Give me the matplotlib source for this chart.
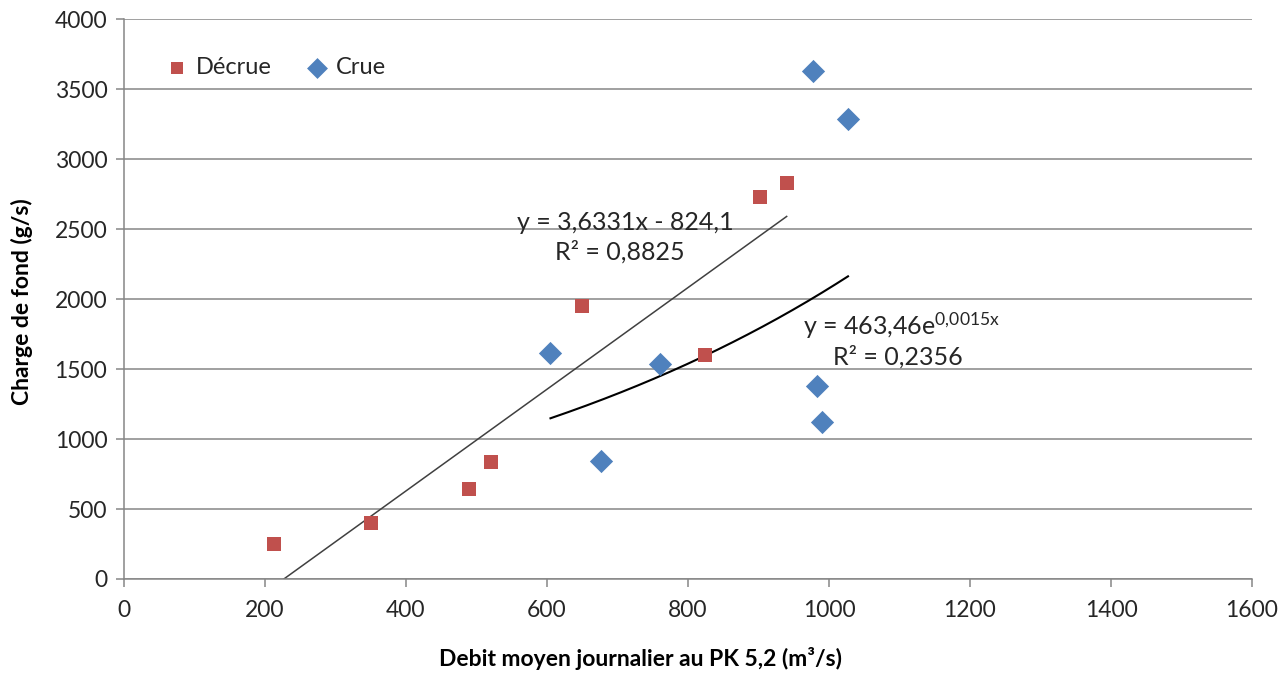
import numpy as np
import matplotlib.pyplot as plt

plt.rcParams['font.family'] = ['Lato', 'DejaVu Sans']
plt.rcParams['mathtext.default'] = 'regular'

# mesures en decrue
debit_decrue = [213, 351, 489, 521, 650, 824, 902, 940]
charge_decrue = [250, 400, 643, 836, 1950, 1600, 2729, 2829]

# mesures en crue
debit_crue = [605, 677, 761, 977, 983, 990, 1027]
charge_crue = [1614, 843, 1536, 3629, 1379, 1121, 3286]

# courbes de tendance (coefficients affiches)
lin_a, lin_b = 3.6331, -824.1
exp_a, exp_k = 463.46, 0.0015

rouge = '#C0504D'
bleu = '#4F81BD'
gris = '#868686'
texte = '#262626'

fig = plt.figure(figsize=(12.87, 6.79), dpi=100)
ax = fig.add_axes([0.0963, 0.1473, 0.8765, 0.8243])

# tendance lineaire sur la decrue
xl = np.linspace(min(debit_decrue), max(debit_decrue), 200)
ax.plot(xl, lin_a * xl + lin_b, color='#404040', lw=1.1, zorder=2)
# tendance exponentielle sur la crue
xe = np.linspace(min(debit_crue), max(debit_crue), 200)
ax.plot(xe, exp_a * np.exp(exp_k * xe), color='black', lw=1.5, zorder=2)

ax.scatter(debit_decrue, charge_decrue, marker='s', s=105, color=rouge,
           label='Décrue', zorder=3, linewidths=0)
ax.scatter(debit_crue, charge_crue, marker='D', s=140, color=bleu,
           label='Crue', zorder=3, linewidths=0)

ax.set_xlim(0, 1600)
ax.set_ylim(0, 4000)
ax.set_xticks(np.arange(0, 1601, 200))
ax.set_yticks(np.arange(0, 4001, 500))
ax.grid(axis='y', color=gris, lw=1.1)
ax.set_axisbelow(True)
for s in ['top', 'right']:
    ax.spines[s].set_visible(False)
for s in ['left', 'bottom']:
    ax.spines[s].set_color(gris)
    ax.spines[s].set_linewidth(1.1)
ax.tick_params(axis='both', colors=gris, length=6, width=1.1,
               labelcolor=texte, labelsize=16.5)
ax.tick_params(axis='x', pad=9)
ax.tick_params(axis='y', pad=6)

ax.set_xlabel('Debit moyen journalier au PK 5,2 (m³/s)', fontsize=16.5,
              fontweight='bold', color='black')
ax.xaxis.set_label_coords(0.458, -0.122)
ax.set_ylabel('Charge de fond (g/s)', fontsize=16.5, fontweight='bold', color='black')
ax.yaxis.set_label_coords(-0.081, 0.495)

ax.text(711, 2550, 'y = 3,6331x - 824,1', fontsize=18, ha='center', va='center',
        color=texte)
ax.text(704, 2336, 'R² = 0,8825', fontsize=18, ha='center', va='center',
        color=texte)
ax.text(963, 1807, 'y = 463,46e$^{0{,}0015x}$', fontsize=18, ha='left', va='center',
        color=texte)
ax.text(1098, 1586, 'R² = 0,2356', fontsize=18, ha='center', va='center',
        color=texte)

ax.legend(loc='upper left', ncol=2, frameon=False, fontsize=17,
          bbox_to_anchor=(0.037, 0.933), borderaxespad=0, borderpad=0,
          handlelength=1.0, handletextpad=0.3, columnspacing=1.4,
          markerscale=0.9, labelcolor=texte)

fig.savefig('out.png', dpi=100)
